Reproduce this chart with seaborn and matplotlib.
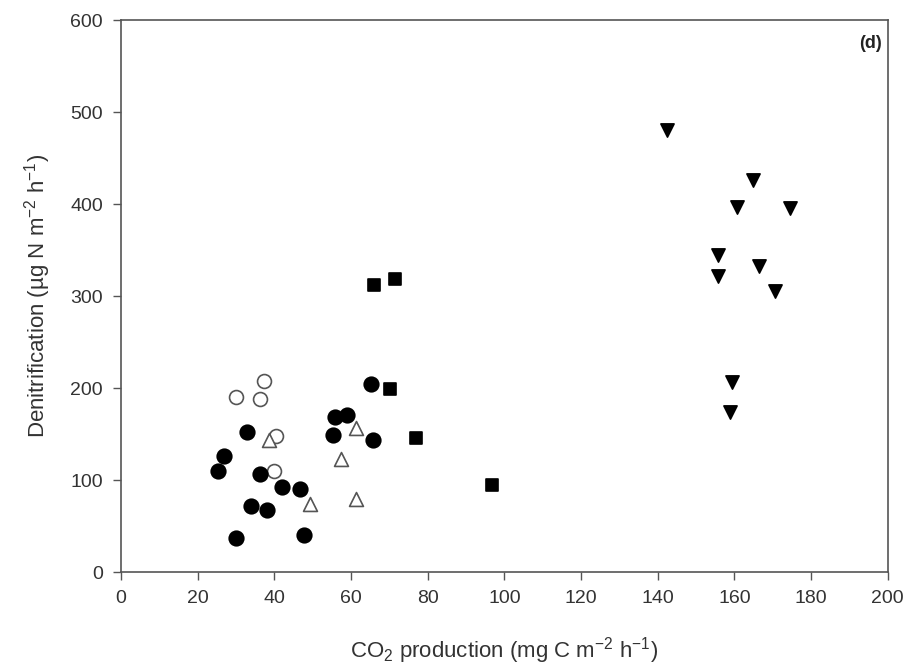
import pandas as pd
import matplotlib
matplotlib.use("Agg")
import matplotlib.pyplot as plt
import seaborn as sns

# valores (CO2, desnitrificação) por grupo
open_circle_x = [30.1, 37.4, 36.3, 40.5, 40.0]
open_circle_y = [190, 208, 188, 148, 110]

filled_circle_x = [65.1, 55.9, 59.0, 32.9, 55.2, 65.8, 26.9, 25.4, 36.3, 42.0, 46.8, 33.9, 38.1, 30.0, 47.7]
filled_circle_y = [204, 169, 171, 152, 149, 143, 126, 110, 107, 92, 90, 72, 67, 37, 40]

open_triangle_x = [38.5, 61.2, 57.3, 49.4, 61.4]
open_triangle_y = [144, 157, 123, 74, 79]

square_x = [66.1, 71.4, 70.3, 76.9, 96.9]
square_y = [312, 318, 199, 146, 95]

tri_down_x = [142.5, 164.9, 160.7, 174.6, 155.7, 155.7, 166.4, 170.7, 159.4, 158.8]
tri_down_y = [480, 426, 397, 396, 345, 322, 333, 305, 206, 174]

x_ticks = [0, 20, 40, 60, 80, 100, 120, 140, 160, 180, 200]
y_ticks = [0, 100, 200, 300, 400, 500, 600]

sns.set_style("white")
plt.rcParams['font.family'] = ['Liberation Sans', 'DejaVu Sans']
plt.rcParams['mathtext.default'] = 'regular'

fig = plt.figure(figsize=(9.15, 6.67), dpi=100)
ax = fig.add_axes([0.1322, 0.1424, 0.838, 0.8276])

groups = [
    (open_circle_x, open_circle_y, 'o', 'white', '#555555', 100),
    (filled_circle_x, filled_circle_y, 'o', 'black', 'black', 110),
    (open_triangle_x, open_triangle_y, '^', 'white', '#555555', 100),
    (square_x, square_y, 's', 'black', 'black', 85),
    (tri_down_x, tri_down_y, 'v', 'black', 'black', 90),
]

for gx, gy, mk, fc, ec, size in groups:
    df = pd.DataFrame({'x': gx, 'y': gy})
    sns.scatterplot(data=df, x='x', y='y', marker=mk, color=fc, edgecolor=ec,
                    linewidth=1.2, s=size, ax=ax, legend=False, zorder=3)

ax.set_xlim(0, 200)
ax.set_ylim(0, 600)
ax.set_xticks(x_ticks)
ax.set_yticks(y_ticks)

for sp in ax.spines.values():
    sp.set_color('#555555')
    sp.set_linewidth(1.2)

ax.tick_params(axis='both', direction='out', length=6, width=1, color='#555555',
               labelsize=14, labelcolor='#333333', pad=7, bottom=True, left=True,
               top=False, right=False)

ax.set_xlabel('CO$_2$ production (mg C m$^{-2}$ h$^{-1}$)', fontsize=16,
              color='#333333', labelpad=20)
ax.set_ylabel('Denitrification (µg N m$^{-2}$ h$^{-1}$)', fontsize=16,
              color='#333333', labelpad=12)

ax.text(0.993, 0.958, '(d)', transform=ax.transAxes, ha='right', va='center',
        fontsize=13, fontweight='bold', color='#222222')

fig.savefig('out.png', dpi=100)
